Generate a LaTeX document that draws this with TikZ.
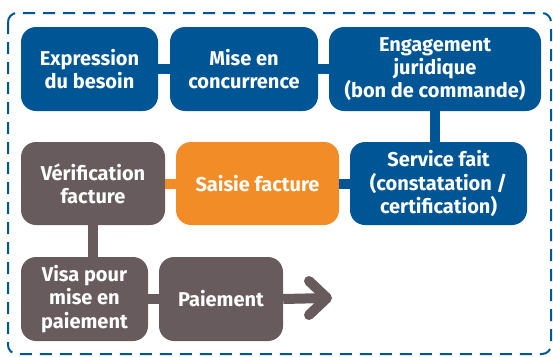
\documentclass[tikz,border=0pt]{standalone}
\usepackage{fontspec}
\setmainfont{Fira Sans}
\definecolor{cblue}{RGB}{0,86,148}
\definecolor{cgray}{RGB}{103,91,93}
\definecolor{corange}{RGB}{241,140,38}
\begin{document}
\begin{tikzpicture}[x=1pt,y=-1pt,
  box/.style={rounded corners=15pt, inner sep=0pt, text=white, align=center,
    font=\fontsize{20}{23.2}\selectfont\bfseries},
  conn/.style={line width=10pt},
]
\useasboundingbox (0,0) rectangle (553,356);
\draw[cblue, line width=2pt, dash pattern=on 12pt off 8pt, rounded corners=9pt] (8,13) rectangle (551,354);
\node[box, fill=cblue, minimum width=137pt, minimum height=84pt] (b1) at (89.5,69) {Expression\\du besoin};
\node[box, fill=cblue, minimum width=148pt, minimum height=84pt] (b2) at (244,69) {Mise en\\concurrence};
\node[box, fill=cblue, minimum width=212pt, minimum height=84pt] (b3) at (435,69) {Engagement\\juridique\\(bon de commande)};
\node[box, fill=cblue, minimum width=177pt, minimum height=83pt] (b4) at (438.5,183.5) {Service fait\\(constatation /\\certification)};
\node[box, fill=corange, minimum width=163pt, minimum height=83pt] (sa) at (257.5,183.5) {Saisie facture};
\node[box, fill=cgray, minimum width=144pt, minimum height=83pt] (ve) at (93,183.5) {Vérification\\facture};
\node[box, fill=cgray, minimum width=127pt, minimum height=84pt] (vi) at (84.5,299) {Visa pour\\mise en\\paiement};
\node[box, fill=cgray, minimum width=124pt, minimum height=84pt] (pa) at (221,299) {Paiement};
\draw[conn, cblue] (b1.east) -- (b2.west);
\draw[conn, cblue] (b2.east) -- (b3.west);
\draw[conn, cblue] (b3.south) -- (b3.south |- b4.north);
\draw[conn, cblue] (sa.east) -- (b4.west);
\draw[conn, corange] (ve.east) -- (sa.west);
\draw[conn, cgray] (ve.south) -- (ve.south |- vi.north);
\draw[conn, cgray] (vi.east) -- (pa.west);
\coordinate (tip) at (327,298);
\coordinate (at1) at (309,281);
\coordinate (at2) at (309,315);
\draw[conn, cgray] (pa.east) -- (tip);
\draw[conn, cgray, line cap=round, line join=round] (at1) -- (tip) -- (at2);
\end{tikzpicture}
\end{document}
